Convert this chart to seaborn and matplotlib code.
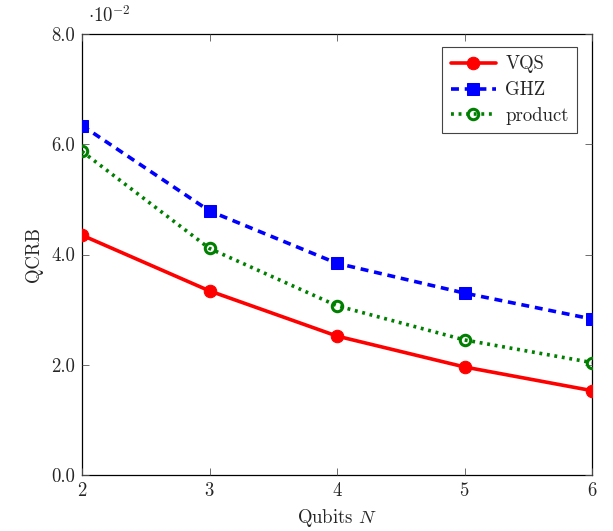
import matplotlib
matplotlib.use("Agg")
import matplotlib.pyplot as plt
import seaborn as sns
import pandas as pd
from matplotlib.ticker import FuncFormatter, MultipleLocator

qubits = [2, 3, 4, 5, 6]
vqs = [0.0435, 0.0334, 0.0252, 0.0196, 0.0153]
ghz = [0.0634, 0.0479, 0.0384, 0.0330, 0.0283]
product = [0.0587, 0.0411, 0.0307, 0.0245, 0.0204]

sns.set_theme(style="ticks")
plt.rcParams["font.family"] = ["cmr10", "DejaVu Serif"]
plt.rcParams["mathtext.fontset"] = "cm"
plt.rcParams["axes.formatter.use_mathtext"] = True
plt.rcParams["font.size"] = 13

df = pd.DataFrame({"N": qubits, "VQS": vqs, "GHZ": ghz, "product": product})

fig = plt.figure(figsize=(6.13, 5.31), dpi=100)
ax = fig.add_axes([82 / 613, 1 - 475 / 531, 510 / 613, 441 / 531])

sns.lineplot(data=df, x="N", y="VQS", ax=ax, color="red", lw=2.6,
             marker="o", markersize=9, markeredgecolor="red", label="VQS")
sns.lineplot(data=df, x="N", y="GHZ", ax=ax, color="blue", lw=2.6,
             marker="s", markersize=8.5, markeredgecolor="blue",
             dashes=(2.2, 1.6), label="GHZ")
sns.lineplot(data=df, x="N", y="product", ax=ax, color="green", lw=2.6,
             marker="o", markersize=7.5, markerfacecolor="none",
             markeredgecolor="green", markeredgewidth=2.2,
             dashes=(0.8, 1.3), label="product")

ax.set_xlim(2, 6)
ax.set_ylim(0, 0.08)
ax.xaxis.set_major_locator(MultipleLocator(1))
ax.yaxis.set_major_locator(MultipleLocator(0.02))
ax.yaxis.set_major_formatter(FuncFormatter(lambda v, p: f"{v * 100:.1f}"))
ax.tick_params(direction="in", length=5, width=0.6, color="#555555",
               top=True, right=True, labelsize=13.5, pad=5)
for s in ax.spines.values():
    s.set_linewidth(0.9)
    s.set_color("black")
    s.set_zorder(0)

ax.text(6 / 510, 1 + 8 / 441, r"$\cdot 10^{-2}$", transform=ax.transAxes,
        fontsize=13.5, va="bottom", ha="left")

ax.set_xlabel(r"Qubits $N$", fontsize=13.5, labelpad=5)
ax.set_ylabel("QCRB", fontsize=13.5, labelpad=6)

leg = ax.legend(loc="upper right", bbox_to_anchor=(1 - 15 / 510, 1 - 13 / 441),
                borderaxespad=0, fontsize=13.5, fancybox=False, framealpha=1,
                edgecolor="#444444", handlelength=2.4, borderpad=0.45,
                labelspacing=0.42, handletextpad=0.5)
leg.get_frame().set_linewidth(0.8)

fig.savefig("out.png", dpi=100)
